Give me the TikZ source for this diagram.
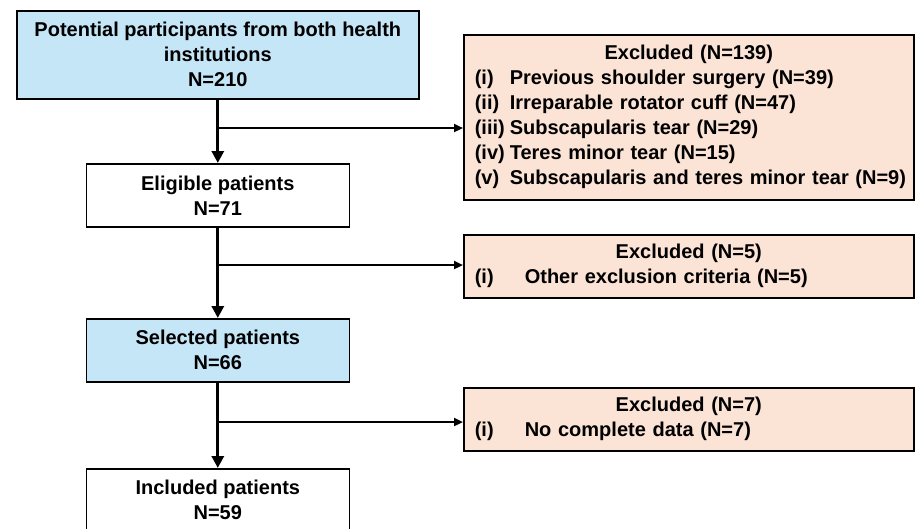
\documentclass[tikz,border=0pt]{standalone}
\usepackage{fontspec}
\setmainfont{Liberation Sans}
\usetikzlibrary{arrows.meta,positioning}

\definecolor{stepblue}{HTML}{C5E6F6}
\definecolor{exclpeach}{HTML}{FBE3D6}

\tikzset{
	flowbox/.style={draw=black,line width=1.6pt,anchor=north west,align=center,inner sep=0pt,font=\fontsize{20}{25}\selectfont\bfseries},
	exclbox/.style={flowbox,fill=exclpeach,text width=#1,align=left},
	mainarrow/.style={line width=3pt,-{Triangle[length=12pt,width=12pt]}},
	sidearrow/.style={line width=2.2pt,-{Triangle[length=9pt,width=8pt]}}
}

\begin{document}
\begin{tikzpicture}[x=1pt,y=-1pt]
		\useasboundingbox (0,0) rectangle (915,528);
		\clip (0,0) rectangle (915,528);
		\node[flowbox,fill=stepblue,minimum width=402pt,minimum height=88pt] (potential) at (16,10) {Potential participants from both health\\institutions\\N=210};
		\node[flowbox,minimum width=263pt,minimum height=63pt] (eligible) at (85.5,163) {Eligible patients\\N=71};
		\node[flowbox,fill=stepblue,minimum width=263pt,minimum height=63pt] (selected) at (85.5,318) {Selected patients\\N=66};
		\node[flowbox,minimum width=263pt,minimum height=63pt] (included) at (85.5,468) {Included patients\\N=59};
		
		\node[exclbox=440pt,minimum height=165pt,inner xsep=5pt] (excl1) at (463,34) {\makebox[\linewidth]{Excluded (N=139)}\\
			\hspace*{6pt}\makebox[35pt][l]{(i)}Previous shoulder surgery (N=39)\\
			\hspace*{6pt}\makebox[35pt][l]{(ii)}Irreparable rotator cuff (N=47)\\
			\hspace*{6pt}\makebox[35pt][l]{(iii)}Subscapularis tear (N=29)\\
			\hspace*{6pt}\makebox[35pt][l]{(iv)}Teres minor tear (N=15)\\
			\hspace*{6pt}\makebox[35pt][l]{(v)}Subscapularis and teres minor tear (N=9)};
		\node[exclbox=440pt,minimum height=63pt,inner xsep=5pt] (excl2) at (463,234) {\makebox[\linewidth]{Excluded (N=5)}\\
			\hspace*{6pt}\makebox[50pt][l]{(i)}Other exclusion criteria (N=5)};
		\node[exclbox=440pt,minimum height=63pt,inner xsep=5pt] (excl3) at (463,387) {\makebox[\linewidth]{Excluded (N=7)}\\
			\hspace*{6pt}\makebox[50pt][l]{(i)}No complete data (N=7)};
		
		\draw[mainarrow] (potential.south) to (eligible.north);
		\draw[mainarrow] (eligible.south) to (selected.north);
		\draw[mainarrow] (selected.south) to (included.north);
		
		\coordinate (branch1) at (217,128);
		\coordinate (branch2) at (217,265);
		\coordinate (branch3) at (217,422);
		\draw[sidearrow] (branch1) to (branch1 -| excl1.west);
		\draw[sidearrow] (branch2) to (branch2 -| excl2.west);
		\draw[sidearrow] (branch3) to (branch3 -| excl3.west);
	\end{tikzpicture}
\end{document}
